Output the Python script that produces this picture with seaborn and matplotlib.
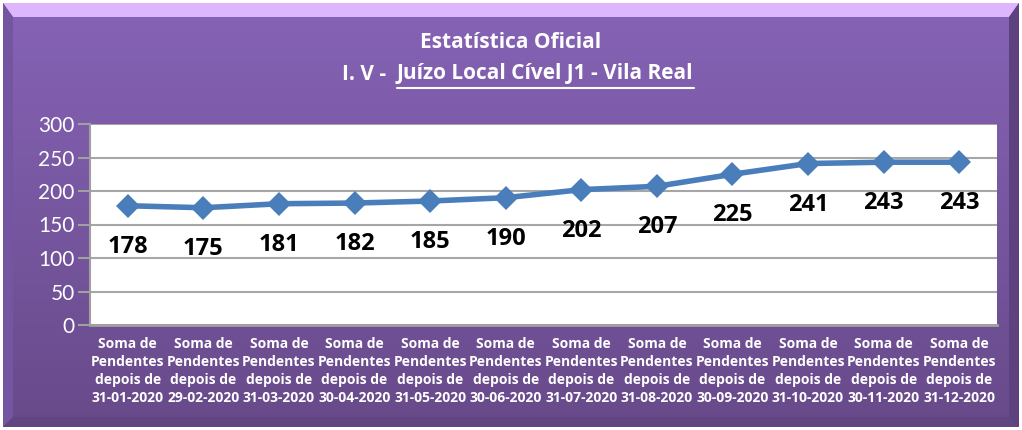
import numpy as np
import pandas as pd
import matplotlib
matplotlib.use("Agg")
import matplotlib.pyplot as plt
import seaborn as sns
from matplotlib.lines import Line2D
from matplotlib.patches import Polygon

# --- dados ---
datas = ["31-01-2020", "29-02-2020", "31-03-2020", "30-04-2020", "31-05-2020", "30-06-2020",
         "31-07-2020", "31-08-2020", "30-09-2020", "31-10-2020", "30-11-2020", "31-12-2020"]
pendentes = [178, 175, 181, 182, 185, 190, 202, 207, 225, 241, 243, 243]
y_ticks = [0, 50, 100, 150, 200, 250, 300]
titulo1 = "Estatística Oficial"
titulo2_prefixo = "I. V -  "
titulo2_sub = "Juízo Local Cível J1 - Vila Real"

rotulos = ["Soma de\nPendentes\ndepois de\n" + d for d in datas]
df = pd.DataFrame({"pos": np.arange(len(datas)), "valor": pendentes})

sns.set_theme(style="white")
plt.rcParams["font.family"] = ["Lato", "DejaVu Sans"]
negrito = ["Open Sans", "DejaVu Sans"]

fig = plt.figure(figsize=(10.22, 4.30), dpi=100)
W, H = 1022, 430

# --- fundo com gradiente e moldura ---
bg = fig.add_axes([0, 0, 1, 1], zorder=0)
bg.set_xlim(0, W)
bg.set_ylim(H, 0)
bg.axis("off")
top_c = np.array([0x86, 0x63, 0xB6]) / 255
bot_c = np.array([0x68, 0x4A, 0x8A]) / 255
t = np.linspace(0, 1, 256)[:, None]
grad = top_c[None, None, :] * (1 - t[..., None]) + bot_c[None, None, :] * t[..., None]
grad = np.repeat(grad, 2, axis=1)
bg.imshow(grad, extent=[3, W - 3, H - 3, 3], aspect="auto", zorder=0)
bg.add_patch(Polygon([[3, 3], [W - 3, 3], [W - 13, 17], [13, 17]], closed=True,
                     color="#DDB6FE", zorder=1, lw=0))
bg.add_patch(Polygon([[3, 3], [13, 17], [13, H - 13], [3, H - 3]], closed=True,
                     color="#7555A2", zorder=1, lw=0))
bg.add_patch(Polygon([[W - 3, 3], [W - 13, 17], [W - 13, H - 13], [W - 3, H - 3]], closed=True,
                     color="#5E427F", zorder=1, lw=0))
bg.add_patch(Polygon([[3, H - 3], [13, H - 13], [W - 13, H - 13], [W - 3, H - 3]], closed=True,
                     color="#5F4680", zorder=1, lw=0))

# --- area do grafico ---
ax = fig.add_axes([90 / W, 1 - 325 / H, 907 / W, 201 / H], zorder=2)
ax.set_facecolor("white")
sns.lineplot(data=df, x="pos", y="valor", ax=ax, color="#4A7EBB", linewidth=4,
             marker="D", markersize=12, markeredgewidth=0, zorder=3)
ax.set_xlim(-0.5, len(datas) - 0.5)
ax.set_ylim(0, 300)
ax.set_yticks(y_ticks)
ax.set_xticks(df["pos"])
ax.set_xticklabels(rotulos, fontsize=10, fontweight="bold", color="white",
                   linespacing=1.35, family=negrito)
ax.set_yticklabels([str(v) for v in y_ticks], fontsize=15, color="white")
ax.tick_params(axis="y", length=9, width=1.5, color="#A0A0A0", pad=2, left=True)
ax.tick_params(axis="x", length=0, pad=9)
ax.grid(axis="y", color="#A6A6A6", linewidth=1.5)
ax.set_axisbelow(True)
ax.set_xlabel("")
ax.set_ylabel("")
for s in ["top", "right"]:
    ax.spines[s].set_visible(False)
ax.spines["left"].set_color("#A0A0A0")
ax.spines["left"].set_linewidth(1.5)
ax.spines["bottom"].set_color("#A0A0A0")
ax.spines["bottom"].set_linewidth(2)

for x, v in zip(df["pos"], df["valor"]):
    ax.annotate(str(v), (x, v), xytext=(0, -41), textcoords="offset pixels",
                ha="center", va="center", fontsize=17, fontweight="bold", color="black",
                family=negrito)

# --- titulo ---
fig.text(0.5, 1 - 42 / H, titulo1, ha="center", va="center", fontsize=15,
         fontweight="bold", color="white", family=negrito)
split = 397 / W
fig.text(split, 1 - 74 / H, titulo2_prefixo, ha="right", va="center", fontsize=15,
         fontweight="bold", color="white", family=negrito)
t2 = fig.text(split, 1 - 74 / H, titulo2_sub, ha="left", va="center", fontsize=15,
              fontweight="bold", color="white", family=negrito)
fig.canvas.draw()
bb = t2.get_window_extent(fig.canvas.get_renderer()).transformed(fig.transFigure.inverted())
fig.add_artist(Line2D([bb.x0, bb.x1], [1 - 88 / H, 1 - 88 / H], color="white",
                      linewidth=1.5, transform=fig.transFigure))

fig.savefig("out.png", dpi=100)
